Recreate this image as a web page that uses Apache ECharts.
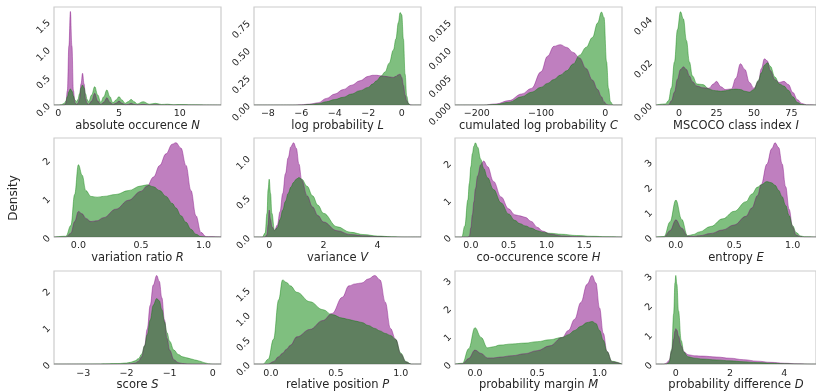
<!DOCTYPE html>
<html><head><meta charset="utf-8">
<script src="https://cdn.jsdelivr.net/npm/echarts@6/dist/echarts.min.js"></script>
<style>html,body{margin:0;padding:0;background:#fff}#c{width:816px;height:392px}</style>
</head><body><div id="c"></div>
<script>
// ---------- data ----------
const N_x = [-0.35,0,0.25,0.5,0.625,0.75,0.875,1,1.125,1.25,1.375,1.5,1.625,1.75,1.875,2,2.125,2.25,2.375,2.5,2.75,3,3.25,3.5,3.75,4,4.25,4.5,4.75,5,5.25,5.5,5.75,6,6.25,6.5,7,7.5,8,8.5,9,9.5,10,11,12,13.4];
const N_purple = [0,0,0,0,0.03,0.26,1.06,1.68,1.06,0.26,0.04,0.01,0.03,0.11,0.38,0.57,0.38,0.11,0.03,0.01,0.07,0.21,0.07,0.01,0.05,0.13,0.05,0.01,0.03,0.07,0.03,0.005,0.01,0.03,0.01,0.003,0.01,0.002,0.005,0.001,0.002,0,0,0,0,0];
const N_green = [0,0,0.005,0.03,0.07,0.15,0.24,0.29,0.25,0.16,0.09,0.06,0.1,0.2,0.31,0.36,0.31,0.2,0.1,0.06,0.18,0.33,0.18,0.05,0.15,0.27,0.15,0.04,0.09,0.15,0.09,0.03,0.06,0.1,0.06,0.02,0.06,0.015,0.03,0.01,0.015,0.005,0.008,0.004,0.002,0];

const L_x = [-8.83,-6.5,-6,-5.5,-5,-4.5,-4,-3.5,-3,-2.5,-2,-1.75,-1.5,-1.25,-1,-0.75,-0.5,-0.35,-0.2,-0.1,0,0.1,0.2,0.3,0.4,0.5,0.6,1.15];
const L_purple = [0,0,0.003,0.008,0.02,0.06,0.1,0.14,0.18,0.22,0.26,0.27,0.27,0.265,0.26,0.255,0.25,0.26,0.275,0.28,0.25,0.18,0.09,0.04,0.012,0.002,0,0];
const L_green = [0,0,0,0.005,0.012,0.03,0.05,0.07,0.1,0.13,0.16,0.19,0.22,0.26,0.3,0.38,0.5,0.6,0.75,0.84,0.82,0.6,0.28,0.08,0.015,0,0,0];

const C_x = [-234,-190,-170,-150,-130,-115,-100,-90,-80,-70,-60,-50,-40,-30,-20,-12,-6,-2,2,5,8,12,26];
const C_purple = [0,0,0.0002,0.0008,0.002,0.003,0.006,0.0088,0.0106,0.0109,0.0104,0.0095,0.0085,0.0066,0.0045,0.0028,0.0015,0.0006,0.0001,0,0,0,0];
const C_green = [0,0,0.0001,0.0005,0.0015,0.0023,0.0032,0.0039,0.0046,0.0054,0.0062,0.0074,0.009,0.0104,0.0122,0.0148,0.0168,0.0158,0.0078,0.003,0.0006,0,0];

const I_x = [-15.3,-9,-7,-5,-3,-1,1,3,5,7,9,12,16,20,23,25,28,31,35,38,41,44,47,50,53,55,57,59,61,64,67,70,73,76,79,82,85,91.4];
const I_purple = [0,0,0,0.002,0.006,0.012,0.0165,0.0178,0.0165,0.0135,0.0108,0.0088,0.008,0.0078,0.0098,0.011,0.0085,0.0072,0.0075,0.0125,0.0192,0.0165,0.0105,0.0078,0.011,0.017,0.0215,0.0205,0.016,0.0118,0.0105,0.011,0.0095,0.0058,0.0025,0.0007,0.0001,0];
const I_green = [0,0.0005,0.002,0.008,0.02,0.035,0.0434,0.04,0.03,0.02,0.0135,0.0098,0.0095,0.0075,0.0068,0.0066,0.0064,0.0066,0.0072,0.0074,0.0072,0.0064,0.006,0.0072,0.0115,0.015,0.0185,0.0197,0.018,0.013,0.0098,0.0088,0.0068,0.0038,0.0012,0.0002,0,0];

const R_x = [-0.195,-0.1,-0.06,-0.03,0,0.03,0.06,0.1,0.15,0.2,0.3,0.4,0.5,0.55,0.6,0.65,0.7,0.75,0.78,0.82,0.86,0.9,0.94,0.98,1.02,1.14];
const R_purple = [0,0,0.1,0.4,0.66,0.6,0.48,0.4,0.42,0.5,0.72,0.95,1.18,1.32,1.55,1.85,2.15,2.4,2.44,2.3,1.85,1.2,0.55,0.12,0.01,0];
const R_green = [0,0.02,0.3,1.1,1.87,1.6,1.2,1.05,1.03,1.05,1.1,1.2,1.32,1.35,1.3,1.2,1.05,0.87,0.75,0.55,0.38,0.2,0.07,0.01,0,0];

const V_x = [-0.56,-0.25,-0.15,-0.08,-0.04,0,0.05,0.1,0.2,0.3,0.4,0.5,0.6,0.7,0.8,0.9,1.0,1.1,1.2,1.4,1.6,1.8,2.0,2.5,3,3.5,4,4.5,5,5.6];
const V_purple = [0,0,0,0.03,0.15,0.34,0.22,0.13,0.085,0.15,0.32,0.55,0.8,1.0,1.14,1.19,1.12,0.92,0.72,0.52,0.38,0.27,0.19,0.08,0.03,0.015,0.005,0.001,0,0];
const V_green = [0,0,0.05,0.3,0.6,0.73,0.55,0.3,0.08,0.12,0.22,0.34,0.45,0.55,0.63,0.69,0.73,0.75,0.73,0.64,0.52,0.4,0.3,0.13,0.06,0.03,0.012,0.004,0,0];

const H_x = [-0.21,-0.12,-0.08,-0.04,-0.02,0,0.02,0.04,0.06,0.09,0.13,0.17,0.22,0.3,0.4,0.5,0.58,0.65,0.72,0.8,0.88,0.95,1.05,1.2,1.4,1.6,1.8,2.0];
const H_purple = [0,0,0,0,0.02,0.25,0.6,0.95,1.3,1.65,1.95,2.05,1.9,1.5,1.08,0.76,0.6,0.57,0.53,0.42,0.26,0.16,0.08,0.03,0.01,0.003,0,0];
const H_green = [0,0,0.3,1.0,1.45,1.9,2.25,2.45,2.54,2.42,2.1,1.85,1.6,1.28,0.92,0.62,0.45,0.36,0.3,0.24,0.17,0.13,0.1,0.075,0.04,0.02,0.008,0];

const E_x = [-0.17,-0.1,-0.05,0,0.05,0.1,0.15,0.2,0.3,0.4,0.5,0.6,0.65,0.7,0.73,0.78,0.82,0.85,0.88,0.91,0.94,0.97,1.0,1.03,1.07,1.1,1.2];
const E_purple = [0,0,0.25,0.68,0.35,0.04,0.02,0.05,0.14,0.28,0.48,0.82,1.15,1.65,2.07,2.9,3.5,3.74,3.55,2.9,2.0,1.1,0.4,0.08,0.01,0,0];
const E_green = [0,0.02,0.6,1.47,0.7,0.05,0.1,0.2,0.42,0.72,1.02,1.4,1.7,1.98,2.07,2.2,2.15,2.05,1.85,1.6,1.25,0.85,0.45,0.18,0.04,0.01,0];

const S_x = [-3.68,-3,-2.6,-2.2,-2,-1.9,-1.8,-1.72,-1.65,-1.58,-1.52,-1.45,-1.38,-1.3,-1.24,-1.18,-1.12,-1.06,-1.0,-0.9,-0.8,-0.7,-0.6,-0.5,-0.4,-0.3,-0.2,-0.1,0,0.19];
const S_purple = [0,0,0,0,0.003,0.01,0.03,0.08,0.2,0.5,0.95,1.6,2.15,2.41,2.25,1.8,1.2,0.7,0.38,0.12,0.04,0.015,0.005,0.002,0,0,0,0,0,0];
const S_green = [0,0.002,0.005,0.015,0.03,0.05,0.09,0.15,0.27,0.5,0.8,1.2,1.6,1.78,1.72,1.48,1.15,0.85,0.62,0.38,0.26,0.2,0.17,0.14,0.11,0.08,0.04,0.01,0,0];

const P_x = [-0.13,-0.06,-0.02,0.02,0.06,0.09,0.12,0.15,0.2,0.3,0.4,0.47,0.55,0.6,0.65,0.7,0.75,0.8,0.84,0.88,0.92,0.96,1.0,1.04,1.08,1.155];
const P_purple = [0,0,0,0.05,0.15,0.22,0.3,0.38,0.55,0.7,0.88,1.02,1.35,1.58,1.62,1.64,1.72,1.79,1.7,1.25,0.72,0.5,0.2,0.04,0,0];
const P_green = [0,0,0.1,0.5,1.3,1.7,1.65,1.58,1.45,1.26,1.1,1.0,0.93,0.9,0.87,0.84,0.78,0.72,0.67,0.62,0.58,0.5,0.22,0.05,0,0];

const M_x = [-0.16,-0.1,-0.05,0,0.05,0.1,0.15,0.2,0.3,0.4,0.5,0.6,0.7,0.75,0.8,0.85,0.9,0.94,0.97,1.0,1.03,1.06,1.1,1.18];
const M_purple = [0,0.01,0.2,0.5,0.38,0.22,0.22,0.25,0.3,0.37,0.48,0.65,0.95,1.2,1.6,2.2,2.85,3.16,2.9,2.0,1.1,0.45,0.08,0];
const M_green = [0,0.03,0.55,1.3,0.95,0.58,0.62,0.68,0.72,0.75,0.8,0.87,0.95,1.05,1.2,1.35,1.48,1.52,1.45,1.2,0.85,0.45,0.1,0];

const D_x = [-0.73,-0.45,-0.35,-0.25,-0.15,-0.08,-0.03,0,0.04,0.1,0.2,0.3,0.45,0.7,1,1.5,2,2.5,3,3.5,4,4.5,5,5.17];
const D_purple = [0,0,0.03,0.12,0.45,0.85,1.12,1.2,1.15,0.95,0.62,0.42,0.32,0.28,0.27,0.24,0.2,0.15,0.1,0.06,0.03,0.01,0,0];
const D_green = [0,0,0,0.05,0.5,1.7,2.75,3.0,2.7,1.8,0.8,0.4,0.25,0.2,0.17,0.14,0.11,0.08,0.05,0.03,0.015,0.005,0,0];

// tick labels
const N_xticks=[0,5,10],        N_yticks=[0,0.5,1,1.5];
const L_xticks=[-8,-6,-4,-2,0], L_yticks=[0,0.25,0.5,0.75];
const C_xticks=[-200,-100,0],   C_yticks=[0,0.005,0.01,0.015];
const I_xticks=[0,25,50,75],    I_yticks=[0,0.02,0.04];
const R_xticks=[0,0.5,1],       R_yticks=[0,1,2];
const V_xticks=[0,2,4],         V_yticks=[0,0.5,1];
const H_xticks=[0,0.5,1,1.5],   H_yticks=[0,1,2];
const E_xticks=[0,0.5,1],       E_yticks=[0,1,2,3];
const S_xticks=[-3,-2,-1,0],    S_yticks=[0,1,2];
const P_xticks=[0,0.5,1],       P_yticks=[0,0.5,1,1.5];
const M_xticks=[0,0.5,1],       M_yticks=[0,1,2,3];
const D_xticks=[0,2,4],         D_yticks=[0,1,2,3];

const titles = [
  ['absolute occurence ','N'],['log probability ','L'],['cumulated log probability ','C'],['MSCOCO class index ','I'],
  ['variation ratio ','R'],['variance ','V'],['co-occurence score ','H'],['entropy ','E'],
  ['score ','S'],['relative position ','P'],['probability margin ','M'],['probability difference ','D']
];

// ---------- layout / build ----------
const panels = [
 {x:N_x,p:N_purple,g:N_green,xr:[-0.35,13.4],xt:N_xticks,xd:0,ym:1.76,yt:N_yticks,yd:1},
 {x:L_x,p:L_purple,g:L_green,xr:[-8.83,1.15],xt:L_xticks,xd:0,ym:0.89,yt:L_yticks,yd:2},
 {x:C_x,p:C_purple,g:C_green,xr:[-234,26],xt:C_xticks,xd:0,ym:0.0177,yt:C_yticks,yd:3},
 {x:I_x,p:I_purple,g:I_green,xr:[-15.3,91.4],xt:I_xticks,xd:0,ym:0.0456,yt:I_yticks,yd:2},
 {x:R_x,p:R_purple,g:R_green,xr:[-0.195,1.14],xt:R_xticks,xd:1,ym:2.56,yt:R_yticks,yd:0},
 {x:V_x,p:V_purple,g:V_green,xr:[-0.56,5.6],xt:V_xticks,xd:0,ym:1.25,yt:V_yticks,yd:1},
 {x:H_x,p:H_purple,g:H_green,xr:[-0.21,2.0],xt:H_xticks,xd:1,ym:2.67,yt:H_yticks,yd:0},
 {x:E_x,p:E_purple,g:E_green,xr:[-0.17,1.2],xt:E_xticks,xd:1,ym:3.93,yt:E_yticks,yd:0},
 {x:S_x,p:S_purple,g:S_green,xr:[-3.68,0.19],xt:S_xticks,xd:0,ym:2.53,yt:S_yticks,yd:0},
 {x:P_x,p:P_purple,g:P_green,xr:[-0.13,1.155],xt:P_xticks,xd:1,ym:1.88,yt:P_yticks,yd:1},
 {x:M_x,p:M_purple,g:M_green,xr:[-0.16,1.18],xt:M_xticks,xd:1,ym:3.32,yt:M_yticks,yd:0},
 {x:D_x,p:D_purple,g:D_green,xr:[-0.73,5.17],xt:D_xticks,xd:0,ym:3.15,yt:D_yticks,yd:0}
];
const colL=[54,254,455,656], rowT=[7,138,271], rowH=[98,99,97], W=167;
const FONT='DejaVu Sans', TXT='#262626';
const fmt = d => v => v.toFixed(d).replace('-', '\u2212');
const grid=[], xAxis=[], yAxis=[], series=[];
panels.forEach((pn,i)=>{
  const r=Math.floor(i/4), c=i%4;
  grid.push({left:colL[c], top:rowT[r], width:W, height:rowH[r], show:true, borderColor:'#cccccc', borderWidth:1.2, backgroundColor:'transparent'});
  xAxis.push({type:'value', gridIndex:i, min:pn.xr[0], max:pn.xr[1],
    axisLine:{show:false}, axisTick:{show:false}, splitLine:{show:false},
    axisLabel:{customValues:pn.xt, formatter:fmt(pn.xd), fontSize:9.5, color:TXT, fontFamily:FONT, margin:4},
    name:'{n|'+titles[i][0]+'}{i|'+titles[i][1]+'}', nameLocation:'middle', nameGap:14,
    nameTextStyle:{fontFamily:FONT, fontSize:11.5, color:TXT,
      rich:{n:{fontFamily:FONT,fontSize:11.5,color:TXT}, i:{fontFamily:FONT,fontSize:11.5,color:TXT,fontStyle:'italic'}}}
  });
  yAxis.push({type:'value', gridIndex:i, min:0, max:pn.ym,
    axisLine:{show:false}, axisTick:{show:false}, splitLine:{show:false},
    axisLabel:{customValues:pn.yt, formatter:fmt(pn.yd), fontSize:9.5, color:TXT, fontFamily:FONT, rotate:45, margin:5}
  });
  [['#800080',pn.p],['#008000',pn.g]].forEach(([col,vals])=>{
    series.push({type:'line', xAxisIndex:i, yAxisIndex:i, data:pn.x.map((xv,k)=>[xv,vals[k]]),
      showSymbol:false, symbol:'none', smooth:0.4, smoothMonotone:'x', silent:true,
      lineStyle:{color:col, width:0.8, opacity:0.5}, areaStyle:{color:col, opacity:0.5}});
  });
});
const chart = echarts.init(document.getElementById('c'), null, {renderer:'canvas'});
chart.setOption({
  animation:false, backgroundColor:'#ffffff',
  grid, xAxis, yAxis, series,
  graphic:[{type:'text', x:14, y:198, rotation:Math.PI/2,
    style:{text:'Density', fontFamily:FONT, fontSize:12, fill:TXT, align:'center', verticalAlign:'middle'}}]
});
</script></body></html>
